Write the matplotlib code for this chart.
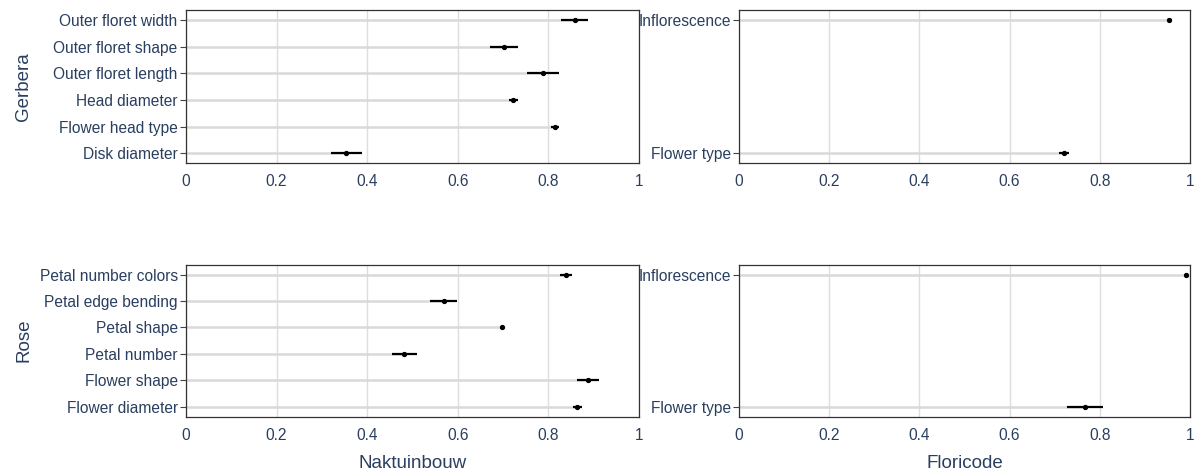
import numpy as np
from matplotlib import pyplot as plt
from matplotlib.transforms import blended_transform_factory

plt.rcParams['font.family'] = ['Liberation Sans', 'DejaVu Sans']
text_col = "#2a3f5f"

# Gerbera - Naktuinbouw
g_nak_labels = ["Disk diameter", "Flower head type", "Head diameter",
                "Outer floret length", "Outer floret shape", "Outer floret width"]
g_nak_val = [0.353, 0.814, 0.722, 0.787, 0.701, 0.858]
g_nak_lo = [0.319, 0.805, 0.713, 0.752, 0.671, 0.827]
g_nak_hi = [0.389, 0.823, 0.733, 0.824, 0.733, 0.888]

# Gerbera - Floricode
g_flo_labels = ["Flower type", "Inflorescence"]
g_flo_val = [0.720, 0.954]
g_flo_lo = [0.710, 0.948]
g_flo_hi = [0.731, 0.960]

# Rose - Naktuinbouw
r_nak_labels = ["Flower diameter", "Flower shape", "Petal number",
                "Petal shape", "Petal edge bending", "Petal number colors"]
r_nak_val = [0.863, 0.887, 0.482, 0.698, 0.569, 0.839]
r_nak_lo = [0.854, 0.863, 0.454, 0.698, 0.538, 0.825]
r_nak_hi = [0.875, 0.911, 0.510, 0.698, 0.599, 0.853]

# Rose - Floricode
r_flo_labels = ["Flower type", "Inflorescence"]
r_flo_val = [0.768, 0.992]
r_flo_lo = [0.728, 0.989]
r_flo_hi = [0.808, 0.995]

xticks = [0, 0.2, 0.4, 0.6, 0.8, 1]
xticklabels = ["0", "0.2", "0.4", "0.6", "0.8", "1"]

fig = plt.figure(figsize=(12, 4.73), dpi=100)


# Draw one lollipop panel with error bars.
def panel(rect, labels, val, lo, hi, xlabel=None, ylabel=None):
    ax = fig.add_axes(rect)
    n = len(labels)
    y = np.arange(n)
    val = np.array(val)
    ax.hlines(y, 0, val, color="#d9d9d9", lw=1.8, zorder=1)
    ax.hlines(y, lo, hi, color="black", lw=1.6, zorder=3)
    ax.plot(val, y, "o", color="black", ms=2.8, zorder=4)
    pad = (n - 1) * 0.075
    ax.set_ylim(-pad, n - 1 + pad)
    ax.set_xlim(0, 1)
    ax.set_yticks(y)
    ax.set_yticklabels(labels)
    ax.set_xticks(xticks)
    ax.set_xticklabels(xticklabels)
    ax.grid(axis="x", color="#dddddd", lw=1)
    ax.set_axisbelow(True)
    ax.tick_params(axis="x", length=0, pad=8, labelsize=11.2, labelcolor=text_col)
    ax.tick_params(axis="y", length=4, width=0.8, color="#444444", pad=2,
                   labelsize=11.2, labelcolor=text_col)
    for s in ax.spines.values():
        s.set_color("#333333")
        s.set_linewidth(0.9)
    if xlabel:
        ax.set_xlabel(xlabel, fontsize=13.5, color=text_col, labelpad=9)
    if ylabel:
        ax.set_ylabel(ylabel, fontsize=13.5, color=text_col)
        trans = blended_transform_factory(fig.transFigure, ax.transAxes)
        ax.yaxis.set_label_coords(0.027, 0.5, transform=trans)
    return ax


panel([0.155, 0.6554, 0.3775, 0.3226], g_nak_labels, g_nak_val, g_nak_lo, g_nak_hi,
      ylabel="Gerbera")
panel([0.6158, 0.6554, 0.3759, 0.3226], g_flo_labels, g_flo_val, g_flo_lo, g_flo_hi)
panel([0.155, 0.119, 0.3775, 0.3214], r_nak_labels, r_nak_val, r_nak_lo, r_nak_hi,
      xlabel="Naktuinbouw", ylabel="Rose")
panel([0.6158, 0.119, 0.3759, 0.3214], r_flo_labels, r_flo_val, r_flo_lo, r_flo_hi,
      xlabel="Floricode")

fig.savefig("out.png", dpi=100)
